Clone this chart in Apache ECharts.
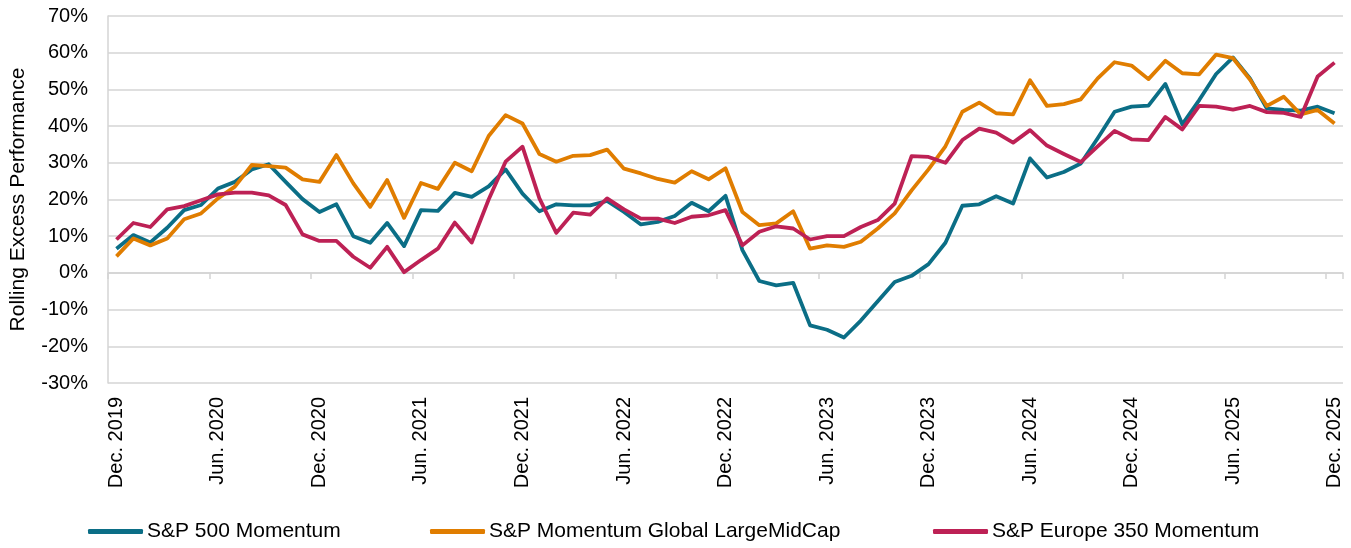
<!DOCTYPE html>
<html>
<head>
<meta charset="utf-8">
<script src="https://cdn.jsdelivr.net/npm/echarts@6/dist/echarts.min.js"></script>
<style>
	html, body { margin: 0; padding: 0; background: #fff; }
	#chart { width: 1351px; height: 548px; }
</style>
</head>
<body>
<div id="chart"></div>
<script>
// month labels, Dec. 2019 .. Dec. 2025
let monthNames = ['Jan.', 'Feb.', 'Mar.', 'Apr.', 'May', 'Jun.', 'Jul.', 'Aug.', 'Sep.', 'Oct.', 'Nov.', 'Dec.'];
let startYear = 2019;
let startMonth = 11;
let monthCount = 73;

let sp500 = [6.6, 10.3, 8.3, 12.3, 17.1, 18.5, 23.0, 24.8, 28.2, 29.6, 24.8, 20.1, 16.6, 18.7, 10.0, 8.2, 13.6, 7.3, 17.1, 16.9,
	21.8, 20.7, 23.6, 28.2, 21.6, 16.8, 18.7, 18.4, 18.4, 19.6, 16.6, 13.2, 13.9, 15.5, 19.1, 16.8, 21.0, 6.2, -2.2, -3.4,
	-2.7, -14.3, -15.5, -17.6, -13.0, -7.7, -2.5, -0.8, 2.4, 8.2, 18.3, 18.7, 20.9, 18.9, 31.2, 26.0, 27.5, 29.8, 36.7, 43.9,
	45.3, 45.6, 51.5, 40.5, 47.1, 54.2, 58.7, 53.0, 44.8, 44.4, 44.2, 45.3, 43.5];

let globalLmc = [4.5, 9.4, 7.5, 9.4, 14.6, 16.2, 20.3, 23.5, 29.4, 29.1, 28.7, 25.5, 24.8, 32.1, 24.4, 18.0, 25.3, 15.0, 24.5, 22.9,
	30.0, 27.7, 37.3, 43.0, 40.7, 32.4, 30.3, 31.9, 32.1, 33.6, 28.4, 27.1, 25.6, 24.6, 27.7, 25.5, 28.5, 16.6, 13.0, 13.5,
	16.8, 6.6, 7.5, 7.1, 8.5, 12.1, 16.2, 22.5, 28.2, 34.5, 43.9, 46.4, 43.5, 43.2, 52.5, 45.5, 46.0, 47.3, 53.0, 57.4,
	56.5, 52.8, 57.8, 54.4, 54.1, 59.5, 58.5, 52.7, 45.5, 48.0, 43.2, 44.4, 40.7];

let europe350 = [9.1, 13.6, 12.5, 17.3, 18.2, 19.8, 21.4, 21.9, 21.9, 21.1, 18.5, 10.5, 8.7, 8.7, 4.4, 1.4, 7.1, 0.2, 3.5, 6.6,
	13.7, 8.3, 20.0, 30.3, 34.4, 20.3, 10.9, 16.4, 15.9, 20.3, 17.3, 14.8, 14.8, 13.6, 15.3, 15.7, 17.1, 7.5, 11.2, 12.7,
	12.1, 9.1, 10.0, 10.0, 12.5, 14.4, 18.9, 31.8, 31.6, 30.0, 36.2, 39.3, 38.2, 35.5, 38.9, 34.7, 32.4, 30.2, 34.5, 38.7,
	36.4, 36.2, 42.5, 39.1, 45.5, 45.3, 44.5, 45.5, 43.8, 43.6, 42.5, 53.5, 57.3];

let seriesNames = ['S&P 500 Momentum', 'S&P Momentum Global LargeMidCap', 'S&P Europe 350 Momentum'];
let seriesColors = ['#0b6e86', '#e07d00', '#bd2155'];
let legendLeft = [88, 430, 933];

let categories = [];
for (let i = 0; i < monthCount; i++) {
	let m = (startMonth + i) % 12;
	let y = startYear + Math.floor((startMonth + i) / 12);
	categories.push(monthNames[m] + ' ' + y);
}

let chart = echarts.init(document.getElementById('chart'));
let font = 'Liberation Sans, Arial, sans-serif';
let gridColor = '#d4d4d4';

let legends = [];
for (let i = 0; i < seriesNames.length; i++) {
	legends.push({
		left: legendLeft[i],
		top: 521,
		padding: 0,
		itemWidth: 55,
		itemHeight: 5,
		itemGap: 0,
		icon: 'roundRect',
		textStyle: { color: '#000', fontSize: 21, fontFamily: font, padding: [0, 0, 0, -1] },
		data: [seriesNames[i]]
	});
}

let allData = [sp500, globalLmc, europe350];
let series = [];
for (let i = 0; i < seriesNames.length; i++) {
	series.push({
		name: seriesNames[i],
		type: 'line',
		data: allData[i],
		xAxisIndex: 0,
		symbol: 'none',
		lineStyle: { width: 3.8, color: seriesColors[i], join: 'round' },
		itemStyle: { color: seriesColors[i] }
	});
}

let option = {
	animation: false,
	color: seriesColors,
	grid: { left: 106, right: 8, top: 16, bottom: 165 },
	legend: legends,
	xAxis: [{
		type: 'category',
		data: categories,
		boundaryGap: true,
		position: 'bottom',
		axisLine: { show: false, onZero: false },
		axisTick: { show: false },
		axisLabel: {
			interval: 5,
			rotate: 90,
			margin: 14,
			color: '#000',
			fontSize: 20,
			fontFamily: font
		}
	}, {
		type: 'category',
		data: categories,
		boundaryGap: true,
		position: 'top',
		axisLine: { show: true, onZero: true, lineStyle: { color: gridColor, width: 1.5 } },
		axisTick: { show: true, inside: true, interval: 5, length: 6, lineStyle: { color: gridColor, width: 1.5 } },
		axisLabel: { show: false }
	}],
	yAxis: {
		type: 'value',
		min: -30,
		max: 70,
		interval: 10,
		name: 'Rolling Excess Performance',
		nameLocation: 'middle',
		nameGap: 79,
		nameTextStyle: { color: '#000', fontSize: 21, fontFamily: font },
		axisLine: { show: true, lineStyle: { color: gridColor, width: 1.5 } },
		axisTick: { show: false },
		axisLabel: {
			formatter: '{value}%',
			margin: 20,
			color: '#000',
			fontSize: 20,
			fontFamily: font
		},
		splitLine: { lineStyle: { color: gridColor, width: 1.5 } }
	},
	series: series
};
chart.setOption(option);
</script>
</body>
</html>
